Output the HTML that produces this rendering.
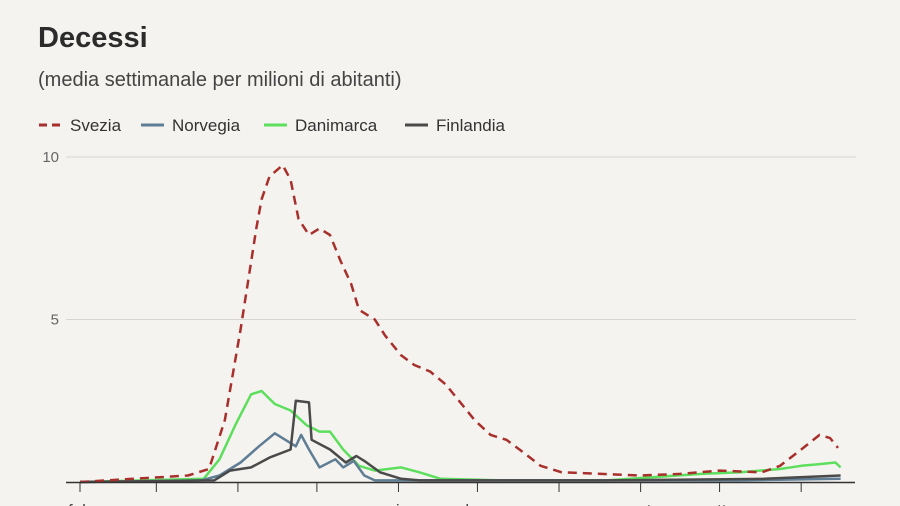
<!DOCTYPE html>
<html><head><meta charset="utf-8"><style>
body{margin:0;background:#f5f3ef;font-family:"Liberation Sans",sans-serif;}
#wrap{position:relative;width:900px;height:506px;overflow:hidden;background:#f5f3ef;}
</style></head><body>
<div id="wrap">
<svg id="chart" width="900" height="506">
<text x="38" y="47" font-size="29" font-weight="bold" fill="#2b2b2b">Decessi</text>
<text x="38" y="86" font-size="20" fill="#444">(media settimanale per milioni di abitanti)</text>
<g>
<g><line x1="39" y1="125" x2="62" y2="125" stroke="#a8302c" stroke-width="3" stroke-dasharray="8,5"/><text x="70" y="131" font-size="17" fill="#333">Svezia</text></g>
<g><line x1="141" y1="125" x2="164" y2="125" stroke="#5f7d95" stroke-width="3"/><text x="172" y="131" font-size="17" fill="#333">Norvegia</text></g>
<g><line x1="264" y1="125" x2="287" y2="125" stroke="#5ddf5d" stroke-width="3"/><text x="295" y="131" font-size="17" fill="#333">Danimarca</text></g>
<g><line x1="405" y1="125" x2="428" y2="125" stroke="#4a4a4a" stroke-width="3"/><text x="436" y="131" font-size="17" fill="#333">Finlandia</text></g>
</g>
<g id="grid"></g>
<g id="series"></g>
<g id="xaxis"></g>
</svg>
</div>
<script>
const yTicks=[0,5,10];
const monthLabels=["feb","mar","apr","mag","giu","lug","ago","set","ott","nov"];
const monthStartDays=[0,29,60,90,121,151,182,213,243,274];
const svDays=[0,41,49,55,61,67,69,72,77,80,83,87,91,95,99,103,106,112,116,122,127,133,139,144,150,156,162,167,175,183,198,213,228,243,259,266,274,281,285,288];
const svVals=[0,0.2,0.4,1.9,4.7,7.8,8.7,9.4,9.75,9.3,8.1,7.6,7.8,7.6,6.8,6.1,5.3,5.0,4.5,3.9,3.6,3.4,3.0,2.5,1.9,1.45,1.3,1.0,0.5,0.3,0.25,0.2,0.25,0.35,0.3,0.5,1.0,1.45,1.35,1.05];
const noDays=[0,46,53,61,68,74,78,82,84,87,91,97,100,104,108,112,150,200,250,289];
const noVals=[0,0.05,0.2,0.6,1.1,1.5,1.3,1.1,1.45,1.0,0.45,0.7,0.45,0.65,0.2,0.05,0.05,0.05,0.05,0.1];
const dkDays=[0,47,53,59,65,69,74,80,86,91,95,100,106,112,122,129,137,160,200,236,251,266,274,281,287,289];
const dkVals=[0,0.1,0.7,1.75,2.7,2.8,2.4,2.2,1.75,1.55,1.55,1.0,0.5,0.35,0.45,0.3,0.1,0.05,0.05,0.25,0.3,0.4,0.5,0.55,0.6,0.45];
const fiDays=[0,51,57,65,72,80,82,87,88,95,101,105,108,114,122,129,200,260,289];
const fiVals=[0,0.05,0.35,0.45,0.75,1.0,2.5,2.45,1.3,1.0,0.6,0.8,0.65,0.3,0.1,0.05,0.05,0.1,0.2];

const NS="http://www.w3.org/2000/svg";
const xS=d=>80+d*2.632;
const yS=v=>482-v*32.5;
const grid=document.getElementById('grid');
yTicks.forEach(t=>{
  if(t>0){
    const l=document.createElementNS(NS,'line');
    l.setAttribute('x1',66);l.setAttribute('x2',856);
    l.setAttribute('y1',yS(t));l.setAttribute('y2',yS(t));
    l.setAttribute('stroke','#d8d6d2');l.setAttribute('stroke-width',1);
    
    
    grid.appendChild(l);
    const tx=document.createElementNS(NS,'text');
    tx.setAttribute('x',59);tx.setAttribute('y',yS(t)+5);
    tx.setAttribute('text-anchor','end');tx.setAttribute('font-size',15);tx.setAttribute('fill','#666');
    tx.textContent=t;
    
    
    grid.appendChild(tx);
  }
});
const ser=document.getElementById('series');
function draw(days,vals,color,dash,name){
  const p=document.createElementNS(NS,'path');
  p.setAttribute('d',days.map((d,i)=>(i?'L':'M')+xS(d).toFixed(1)+','+yS(vals[i]).toFixed(1)).join(''));
  p.setAttribute('fill','none');p.setAttribute('stroke',color);p.setAttribute('stroke-width',2.5);
  p.setAttribute('stroke-linejoin','round');
  if(dash)p.setAttribute('stroke-dasharray',dash);
  
  
  ser.appendChild(p);
}
draw(dkDays,dkVals,'#5ddf5d',null,'line-danimarca');
draw(noDays,noVals,'#5f7d95',null,'line-norvegia');
draw(fiDays,fiVals,'#4a4a4a',null,'line-finlandia');
draw(svDays,svVals,'#a8302c','9,6','line-svezia');
const xa=document.getElementById('xaxis');
const ax=document.createElementNS(NS,'line');
ax.setAttribute('x1',66);ax.setAttribute('x2',855);ax.setAttribute('y1',482.5);ax.setAttribute('y2',482.5);
ax.setAttribute('stroke','#333');ax.setAttribute('stroke-width',1.5);


xa.appendChild(ax);
monthStartDays.forEach((d,i)=>{
  const t=document.createElementNS(NS,'line');
  t.setAttribute('x1',xS(d));t.setAttribute('x2',xS(d));t.setAttribute('y1',482);t.setAttribute('y2',492);
  t.setAttribute('stroke','#333');t.setAttribute('stroke-width',1);
  
  
  xa.appendChild(t);
  const tx=document.createElementNS(NS,'text');
  tx.setAttribute('x',xS(d)-12);tx.setAttribute('y',516);
  tx.setAttribute('font-size',17);tx.setAttribute('fill','#444');
  tx.textContent=monthLabels[i];
  
  
  xa.appendChild(tx);
});
</script>
</body></html>
